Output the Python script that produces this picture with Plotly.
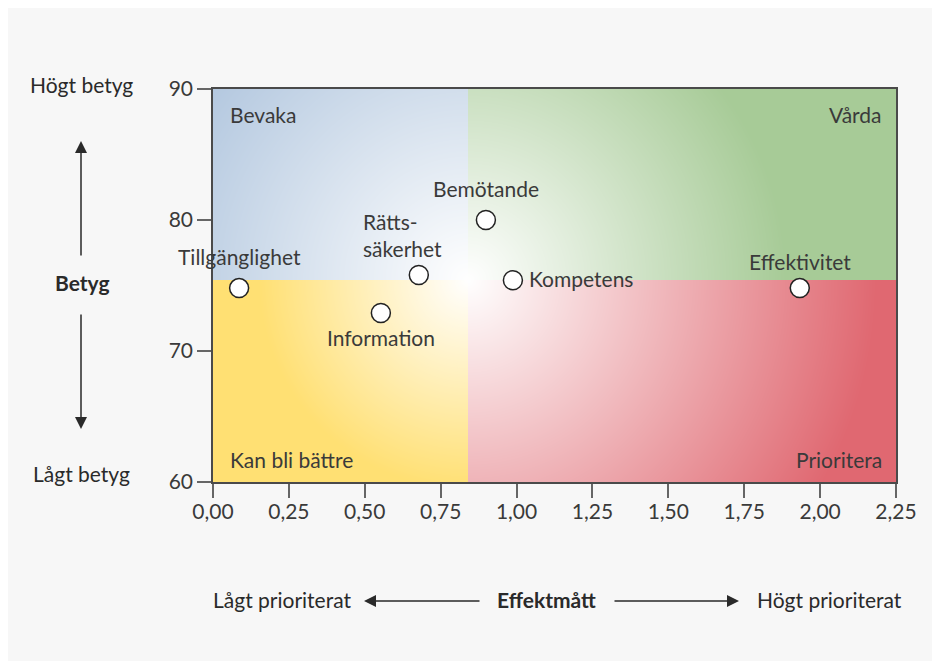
import base64, struct, zlib
import numpy as np
import plotly.graph_objects as go

# ---------------- data ----------------
names = ["Tillgänglighet", "Information", "Rätts-<br>säkerhet", "Bemötande", "Kompetens", "Effektivitet"]
effekt = [0.086, 0.553, 0.678, 0.899, 0.988, 1.933]
betyg = [74.8, 72.9, 75.8, 80.0, 75.4, 74.8]
x_ticks = [0, 0.25, 0.5, 0.75, 1.0, 1.25, 1.5, 1.75, 2.0, 2.25]
y_ticks = [60, 70, 80, 90]
x_split = 0.84
y_split = 75.4
quadrant_names = ["Bevaka", "Vårda", "Kan bli bättre", "Prioritera"]

# ---------------- layout geometry ----------------
OFF = 7  # page offset of the figure inside the screenshot
W, H = 940, 661
ML, MT = 212 - OFF, 88 - OFF
PW, PH = 895 - 212, 481 - 88
MR = W - ML - PW
MB = H - MT - PH
XR = (0, 2.25)
YR = (60, 90)
TXT = "#3a3a3a"
FONT = "Lato"
FS = 21
TY = 2  # vertical text nudge

# ---------------- gradient background image ----------------
def png_uri(arr):
    h, w, _ = arr.shape
    raw = b"".join(b"\x00" + arr[i].tobytes() for i in range(h))
    def chunk(t, d):
        c = struct.pack(">I", len(d)) + t + d
        return c + struct.pack(">I", zlib.crc32(t + d) & 0xFFFFFFFF)
    png = (b"\x89PNG\r\n\x1a\n"
           + chunk(b"IHDR", struct.pack(">IIBBBBB", w, h, 8, 2, 0, 0, 0))
           + chunk(b"IDAT", zlib.compress(raw, 9))
           + chunk(b"IEND", b""))
    return "data:image/png;base64," + base64.b64encode(png).decode()

xs = np.linspace(XR[0], XR[1], PW)
ys = np.linspace(YR[1], YR[0], PH)
X, Y = np.meshgrid(xs, ys)
sx = PW / (XR[1] - XR[0])
sy = PH / (YR[1] - YR[0])
D = np.sqrt(((X - x_split) * sx) ** 2 + ((Y - y_split) * sy) ** 2)

cols = {
    "blue": (np.array([178, 199, 223]), 330),
    "green": (np.array([167, 203, 151]), 320),
    "yellow": (np.array([255, 224, 115]), 210),
    "red": (np.array([224, 104, 113]), 410),
}
img = np.zeros((PH, PW, 3), dtype=float)
masks = {
    "blue": (X < x_split) & (Y >= y_split),
    "green": (X >= x_split) & (Y >= y_split),
    "yellow": (X < x_split) & (Y < y_split),
    "red": (X >= x_split) & (Y < y_split),
}
white = np.array([255, 255, 255], dtype=float)
for k, m in masks.items():
    c, R = cols[k]
    t = np.clip(D / R, 0, 1)[..., None]
    blend = white * (1 - t) + c * t
    img[m] = blend[m]
img = np.clip(img, 0, 255).astype(np.uint8)

fig = go.Figure()

fig.add_layout_image(dict(
    source=png_uri(img), xref="x", yref="y", x=XR[0], y=YR[1],
    sizex=XR[1] - XR[0], sizey=YR[1] - YR[0], sizing="stretch",
    xanchor="left", yanchor="top", layer="below",
))

fig.add_trace(go.Scatter(
    x=effekt, y=betyg, mode="markers",
    marker=dict(size=19, color="white", line=dict(color="#222", width=1.5)),
    hoverinfo="skip", showlegend=False,
))

# point labels (offsets in pixels)
label_style = [
    dict(xanchor="center", xshift=0, yshift=30, align="center"),
    dict(xanchor="center", xshift=0, yshift=-26, align="center"),
    dict(xanchor="left", xshift=-58, yshift=38, align="left"),
    dict(xanchor="center", xshift=0, yshift=30, align="center"),
    dict(xanchor="left", xshift=14, yshift=0, align="left"),
    dict(xanchor="center", xshift=0, yshift=25, align="center"),
]
for n, xv, yv, st in zip(names, effekt, betyg, label_style):
    st = dict(st)
    st["yshift"] += TY
    fig.add_annotation(x=xv, y=yv, xref="x", yref="y", text=n, showarrow=False,
                       font=dict(family=FONT, size=FS, color=TXT), yanchor="middle", **st)

# quadrant labels
q_pos = [
    dict(x=XR[0], y=YR[1], xanchor="left", xshift=15, yshift=-27 + TY),
    dict(x=XR[1], y=YR[1], xanchor="right", xshift=-12, yshift=-27 + TY),
    dict(x=XR[0], y=YR[0], xanchor="left", xshift=15, yshift=21 + TY),
    dict(x=XR[1], y=YR[0], xanchor="right", xshift=-12, yshift=21 + TY),
]
for q, p in zip(quadrant_names, q_pos):
    fig.add_annotation(xref="x", yref="y", text=q, showarrow=False, yanchor="middle",
                       font=dict(family=FONT, size=FS, color=TXT), **p)

def px(xp):
    return (xp - OFF - ML) / PW

def py(yp):
    return (MT + PH - (yp - OFF)) / PH

# side texts (reference screenshot coordinates)
side = [
    ("Högt betyg", 80, 86 - TY),
    ("Lågt betyg", 80, 474 - TY),
    ("<b>Betyg</b>", 81, 283 - TY),
    ("Lågt prioriterat", 281, 600 - TY),
    ("<b>Effektmått</b>", 545, 600 - TY),
    ("Högt prioriterat", 828, 600 - TY),
]
for t, xp, yp in side:
    fig.add_annotation(xref="paper", yref="paper", x=px(xp), y=py(yp), text=t,
                       showarrow=False, xanchor="center", yanchor="middle",
                       font=dict(family=FONT, size=FS, color="#2a2a2a"))

# arrows (head position, tail offset in px)
arrows = [
    (80, 140, 0, 116),
    (80, 428, 0, -116),
    (363, 600, 117, 0),
    (738, 600, -126, 0),
]
for hx, hy, ax, ay in arrows:
    fig.add_annotation(xref="paper", yref="paper", x=px(hx), y=py(hy), text="",
                       showarrow=True, ax=ax, ay=ay, axref="pixel", ayref="pixel",
                       arrowhead=2, arrowsize=1.6, arrowwidth=1.5, arrowcolor="#2a2a2a",
                       standoff=0, startstandoff=0)

axis_common = dict(
    showgrid=False, zeroline=False, showline=True, linecolor="#4a4a4a", linewidth=1.5,
    mirror=True, ticks="outside", ticklen=14, tickwidth=1.5, tickcolor="#666",
    tickfont=dict(family=FONT, size=FS, color=TXT),
)
fig.update_xaxes(range=list(XR), tickvals=x_ticks, tickformat=".2f", ticklabelstandoff=-4, **axis_common)
fig.update_yaxes(range=list(YR), tickvals=y_ticks, **axis_common)

fig.update_layout(
    width=W, height=H, margin=dict(l=ML, r=MR, t=MT, b=MB),
    paper_bgcolor="#f7f7f7", plot_bgcolor="white", separators=", ",
    font=dict(family=FONT, color=TXT), showlegend=False,
)

fig.write_html("out.html")
